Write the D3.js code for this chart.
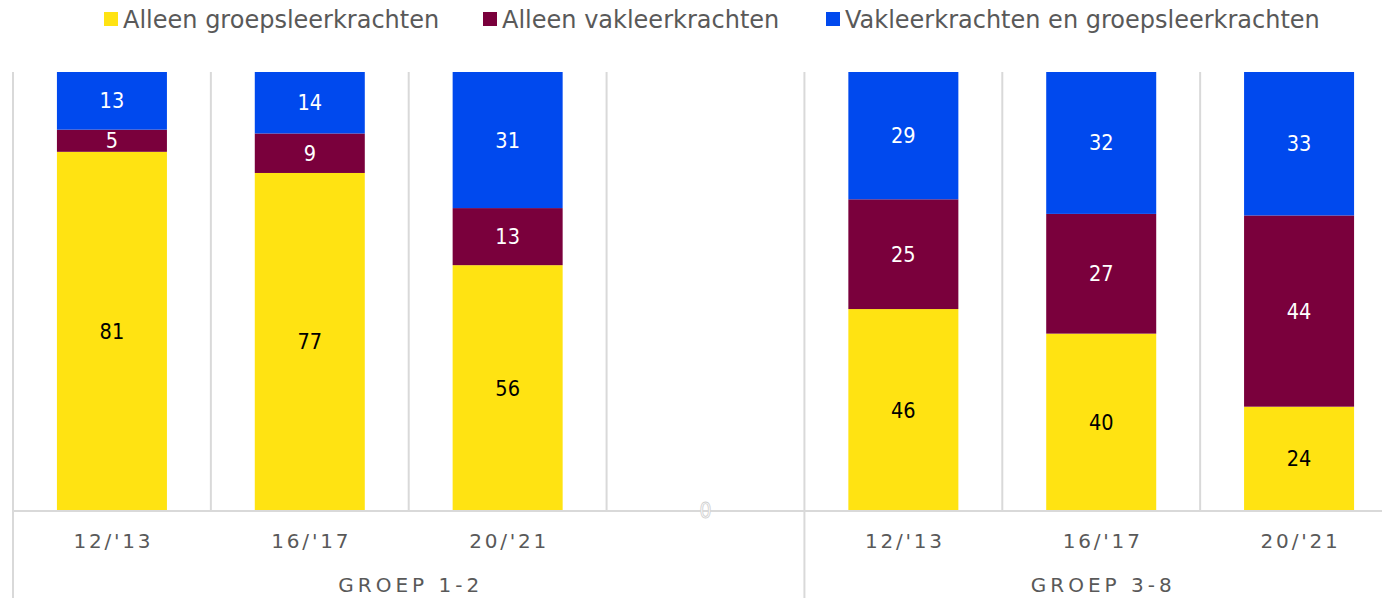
<!DOCTYPE html>
<html>
<head>
<meta charset="utf-8">
<script src="https://cdn.jsdelivr.net/npm/d3@7"></script>
<style>
  body { margin: 0; background: #fff; }
  svg { display: block; font-family: "DejaVu Sans", sans-serif; }
</style>
</head>
<body>
<div id="chart"></div>
<script>
// data
const periods = ["12/'13", "16/'17", "20/'21", "", "12/'13", "16/'17", "20/'21"];
const groups = [
  { label: "GROEP 1-2", from: 0, to: 3 },
  { label: "GROEP 3-8", from: 4, to: 6 },
];
const seriesNames = ["Alleen groepsleerkrachten", "Alleen vakleerkrachten", "Vakleerkrachten en groepsleerkrachten"];
const alleenGroeps = [81, 77, 56, 0, 46, 40, 24];
const alleenVak = [5, 9, 13, 0, 25, 27, 44];
const vakEnGroeps = [13, 14, 31, 0, 29, 32, 33];
const colors = ["#FFE312", "#7A003C", "#0049EE"];
const labelColors = ["#000", "#fff", "#fff"];

const width = 1382, height = 598;
const margin = { top: 72, left: 13, bottom: 87 };
const plotRight = 1398; // the plot runs past the right edge of the picture
const keys = ["g", "v", "b"];
const rows = periods.map((p, i) => ({ idx: String(i), period: p, g: alleenGroeps[i], v: alleenVak[i], b: vakEnGroeps[i] }));

const svg = d3.select("#chart").append("svg").attr("width", width).attr("height", height);

const x = d3.scaleBand().domain(rows.map((d) => d.idx)).range([margin.left, plotRight])
  .paddingInner(0.444).paddingOuter(0.222);
const step = x.step();
const edge = (i) => i >= rows.length ? plotRight : x(String(i)) - step * x.paddingInner() / 2;
const y = d3.scaleLinear().domain([0, 1]).range([height - margin.bottom, margin.top]);
const axisY = y(0);

const stacked = d3.stack().keys(keys).offset(d3.stackOffsetExpand)(rows);

// grid lines between categories
const grid = svg.append("g").attr("stroke", "#D9D9D9").attr("stroke-width", 2);
d3.range(rows.length + 1).forEach((i) => {
  const isGroupEdge = i === 0 || i === 4 || i === rows.length;
  grid.append("line").attr("x1", edge(i)).attr("x2", edge(i))
    .attr("y1", margin.top).attr("y2", isGroupEdge ? height : axisY);
});

// bars
const layers = svg.append("g").selectAll("g").data(stacked).join("g")
  .attr("fill", (d, i) => colors[i]);
layers.selectAll("rect").data((d) => d).join("rect")
  .attr("x", (d) => x(d.data.idx))
  .attr("width", x.bandwidth())
  .attr("y", (d) => y(d[1]))
  .attr("height", (d) => y(d[0]) - y(d[1]));

// axis line
svg.append("line").attr("x1", margin.left).attr("x2", plotRight)
  .attr("y1", axisY).attr("y2", axisY).attr("stroke", "#D9D9D9").attr("stroke-width", 2);

// data labels
stacked.forEach((layer, li) => {
  svg.append("g").selectAll("text").data(layer.filter((d) => d.data[keys[li]] > 0)).join("text")
    .attr("x", (d) => x(d.data.idx) + x.bandwidth() / 2)
    .attr("y", (d) => (y(d[0]) + y(d[1])) / 2)
    .attr("text-anchor", "middle").attr("dominant-baseline", "central")
    .attr("font-family", "DejaVu Sans Condensed, DejaVu Sans, sans-serif")
    .attr("font-size", 21.5).attr("fill", labelColors[li])
    .text((d) => d.data[keys[li]]);
});
// the empty category shows a hollow zero on the axis
svg.append("g").selectAll("text").data(rows.filter((d) => d.g + d.v + d.b === 0)).join("text")
  .attr("x", (d) => x(d.idx) + x.bandwidth() / 2).attr("y", axisY)
  .attr("text-anchor", "middle").attr("dominant-baseline", "central")
  .attr("font-family", "DejaVu Sans Condensed, DejaVu Sans, sans-serif")
  .attr("font-size", 21).attr("fill", "#fff").attr("stroke", "#D0D0D0").attr("stroke-width", 0.8)
  .text("0");

// category labels
svg.append("g").selectAll("text").data(rows).join("text")
  .attr("x", (d) => x(d.idx) + x.bandwidth() / 2 + 1.5).attr("y", 541)
  .attr("text-anchor", "middle").attr("dominant-baseline", "central")
  .attr("font-size", 20).attr("letter-spacing", 2.8).attr("fill", "#595959")
  .text((d) => d.period);

// group labels
svg.append("g").selectAll("text").data(groups).join("text")
  .attr("x", (g) => (edge(g.from) + edge(g.to + 1)) / 2 + 2).attr("y", 585)
  .attr("text-anchor", "middle").attr("dominant-baseline", "central")
  .attr("font-size", 20).attr("letter-spacing", 4).attr("fill", "#595959")
  .text((g) => g.label);

// legend
const legendX = [104, 483, 826];
const legend = svg.append("g").selectAll("g").data(seriesNames).join("g")
  .attr("transform", (d, i) => `translate(${legendX[i]},12)`);
legend.append("rect").attr("width", 14).attr("height", 14).attr("fill", (d, i) => colors[i]);
legend.append("text").attr("x", 19).attr("y", 8).attr("dominant-baseline", "central")
  .attr("font-size", 24).attr("fill", "#595959").text((d) => d);
</script>
</body>
</html>
